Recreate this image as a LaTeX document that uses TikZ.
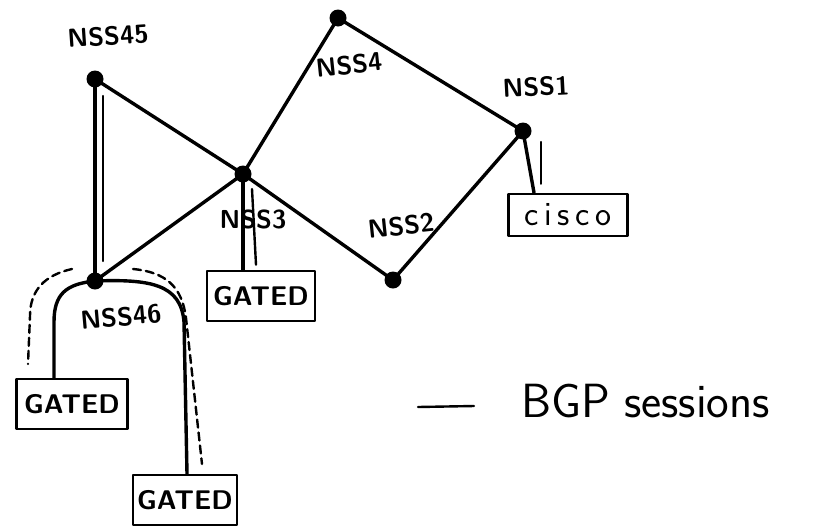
\documentclass[tikz,border=0pt]{standalone}
\usetikzlibrary{positioning}

\begin{document}
\begin{tikzpicture}
  [x=1pt,y=-1pt,line cap=round,line join=round,
   router/.style={circle,fill=black,inner sep=0pt,minimum size=17pt},
   rname/.style={font=\sffamily\bfseries\fontsize{26}{26}\selectfont,inner sep=0pt},
   host/.style={draw,line width=2.6pt,inner sep=0pt,minimum height=50pt,
     font=\sffamily\bfseries\fontsize{27}{27}\selectfont},
   link/.style={line width=3.4pt},
   bgp/.style={line width=2.4pt},
   bgpdash/.style={line width=2.4pt,dash pattern=on 8pt off 5pt}]
  \useasboundingbox (0,0) rectangle (813,528);

  % routers
  \node (nss45) [router] at (95,79)  {};
  \node (nss4)  [router] at (338,18) {};
  \node (nss1)  [router] at (523,131) {};
  \node (nss3)  [router] at (243,174) {};
  \node (nss2)  [router] at (393,280) {};
  \node (nss46) [router] at (95,281) {};

  \node (l45) [rname,rotate=4] at (108,36)  {NSS45};
  \node (l4)  [rname,rotate=6] at (349,65)  {NSS4};
  \node (l1)  [rname,rotate=3] at (536,87)  {NSS1};
  \node (l3)  [rname]          at (253,219) {NSS3};
  \node (l2)  [rname,rotate=6] at (401,226) {NSS2};
  \node (l46) [rname,rotate=5] at (121,317) {NSS46};

  % hosts
  \node (cisco)  [host,minimum width=119pt,minimum height=42pt,
                  font=\sffamily\fontsize{34}{34}\selectfont] at (568,215) {c\,i\,s\,c\,o};
  \node (gated3) [host,minimum width=108pt] at (261,296) {GATED};
  \node (gleft)  [host,minimum width=111pt] at (72,404)  {GATED};
  \node (gbot)   [host,minimum width=104pt] at (185,500) {GATED};

  % links between routers
  \foreach \from/\to in
  {nss45/nss3, nss3/nss4, nss4/nss1, nss1/nss2, nss2/nss3, nss3/nss46, nss45/nss46}
    \draw[link] (\from.center) -- (\to.center);

  % links to the hosts
  \draw[link] (nss3.center) -- (nss3.center |- gated3.north);
  \draw[link] (nss1.center) -- ([xshift=-34pt]cisco.north);
  \draw[link] (nss46.center) .. controls (66,284) and (54,294) .. (54,322)
    -- ([xshift=-18pt]gleft.north);
  \draw[link] (nss46.center) .. controls (150,279) and (181,284) .. (184,322)
    -- ([xshift=2pt]gbot.north);

  % BGP sessions
  \draw[bgp] ([shift={(8,17)}]nss45.center) -- ([shift={(8,-20)}]nss46.center);
  \draw[bgp] ([shift={(9,15)}]nss3.center) -- ([shift={(-5,-5)}]gated3.north);
  \draw[bgp] ([shift={(18,11)}]nss1.center) -- ([shift={(-27,-9)}]cisco.north);
  \draw[bgpdash] ([shift={(-23,-12)}]nss46.center)
    .. controls (45,275) and (30,290) .. (30,316) -- (28,364);
  \draw[bgpdash] ([shift={(38,-12)}]nss46.center)
    .. controls (165,272) and (182,286) .. (186,318) -- (202,464);

  % key
  \coordinate (key) at (418,407);
  \draw[bgp] (key) -- ++(56,-1);
  \node (keytext) [anchor=base west,inner sep=0pt,
                   font=\sffamily\fontsize{48}{48}\selectfont] at (521,417)
    {BGP\hspace{14pt}sessions};
\end{tikzpicture}
\end{document}
